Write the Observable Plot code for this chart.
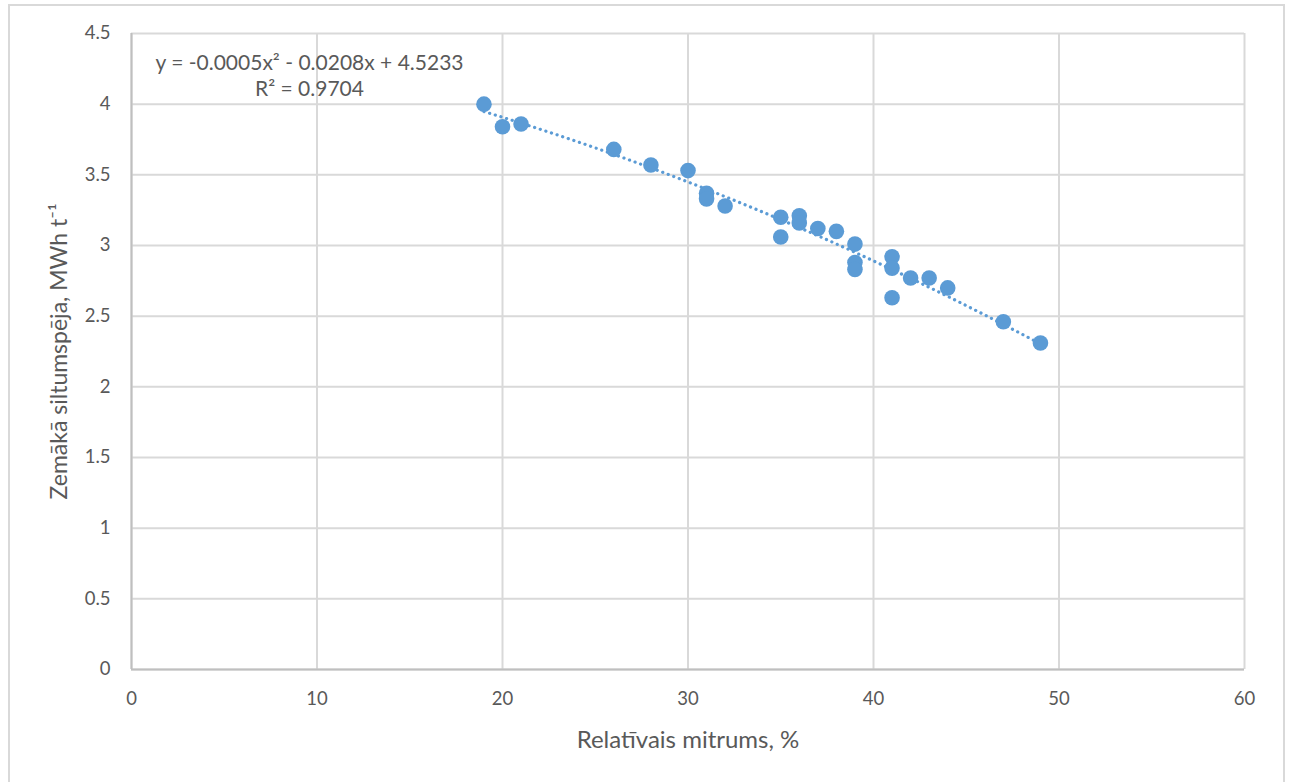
<!DOCTYPE html>
<html>
<head>
<meta charset="utf-8">
<script src="https://cdn.jsdelivr.net/npm/d3@7"></script>
<script src="https://cdn.jsdelivr.net/npm/@observablehq/plot@0.6"></script>
<style>
  body { margin: 0; background: #fff; }
  #wrap { position: relative; width: 1291px; height: 782px; overflow: hidden; }
  #border { position: absolute; left: 8px; top: 4px; width: 1277px; height: 820px; border: 2px solid #d9d9d9; box-sizing: border-box; pointer-events: none; }
</style>
</head>
<body>
<div id="wrap"><div id="border"></div></div>
<script>
// Data
const moisture  = [19, 20, 21, 26, 28, 30, 31, 31, 32, 35, 35, 36, 36, 37, 38, 39, 39, 39, 41, 41, 41, 42, 43, 44, 47, 49];
const heatValue = [4.00, 3.84, 3.86, 3.68, 3.57, 3.53, 3.37, 3.33, 3.28, 3.20, 3.06, 3.21, 3.16, 3.12, 3.10, 3.01, 2.88, 2.83, 2.92, 2.84, 2.63, 2.77, 2.77, 2.70, 2.46, 2.31];
const xTicks = [0, 10, 20, 30, 40, 50, 60];
const yTicks = [0, 0.5, 1, 1.5, 2, 2.5, 3, 3.5, 4, 4.5];
// Trendline as given on the chart: y = a x^2 + b x + c
const trendCoeffs = [-0.0005, -0.0208, 4.5233];
const equationText = ["y = -0.0005x² - 0.0208x + 4.5233", "R² = 0.9704"];
const xTitle = "Relatīvais mitrums, %";
const yTitle = "Zemākā siltumspēja, MWh t⁻¹";

const points = moisture.map((m, i) => ({x: m, y: heatValue[i]}));
const x0 = d3.min(moisture), x1 = d3.max(moisture);
const trend = d3.range(x0, x1 + 0.001, 0.25).map(x => ({x, y: trendCoeffs[0]*x*x + trendCoeffs[1]*x + trendCoeffs[2]}));

const blue = "#5b9bd5";
const grey = "#595959";

const chart = Plot.plot({
  width: 1291,
  height: 782,
  marginLeft: 131,
  marginRight: 47,
  marginTop: 33,
  marginBottom: 113,
  style: {fontFamily: "Lato, 'Open Sans', sans-serif", fontSize: "18px", color: grey, background: "transparent"},
  x: {domain: [0, 60]},
  y: {domain: [0, 4.5]},
  marks: [
    Plot.gridX(xTicks, {stroke: "#d9d9d9", strokeOpacity: 1, strokeWidth: 2}),
    Plot.gridY(yTicks, {stroke: "#d9d9d9", strokeOpacity: 1, strokeWidth: 2}),
    Plot.ruleX([0], {stroke: "#bfbfbf", strokeWidth: 2}),
    Plot.ruleY([0], {stroke: "#bfbfbf", strokeWidth: 2}),
    Plot.axisX(xTicks, {tickSize: 0, tickPadding: 22, label: null, fill: grey, fontSize: 18.5, tickFormat: d => String(d)}),
    Plot.axisY(yTicks, {tickSize: 0, tickPadding: 21, label: null, fill: grey, fontSize: 18.5, tickFormat: d => String(d)}),
    Plot.line(trend, {x: "x", y: "y", stroke: blue, strokeWidth: 3.2, strokeDasharray: "0.1 5.8", strokeLinecap: "round"}),
    Plot.dot(points, {x: "x", y: "y", r: 7.8, fill: blue, stroke: "none"}),
    Plot.text([equationText[0]], {frameAnchor: "top-left", dx: 178, dy: 30, textAnchor: "middle", lineAnchor: "middle", fill: grey, fontSize: 21}),
    Plot.text([equationText[1]], {frameAnchor: "top-left", dx: 178, dy: 56, textAnchor: "middle", lineAnchor: "middle", fill: grey, fontSize: 21}),
    Plot.text([xTitle], {frameAnchor: "bottom", dy: 71, textAnchor: "middle", lineAnchor: "middle", fill: grey, fontSize: 24}),
    Plot.text([yTitle], {frameAnchor: "left", dx: -72, rotate: -90, textAnchor: "middle", lineAnchor: "middle", fill: grey, fontSize: 23})
  ]
});
document.getElementById("wrap").prepend(chart);
</script>
</body>
</html>
